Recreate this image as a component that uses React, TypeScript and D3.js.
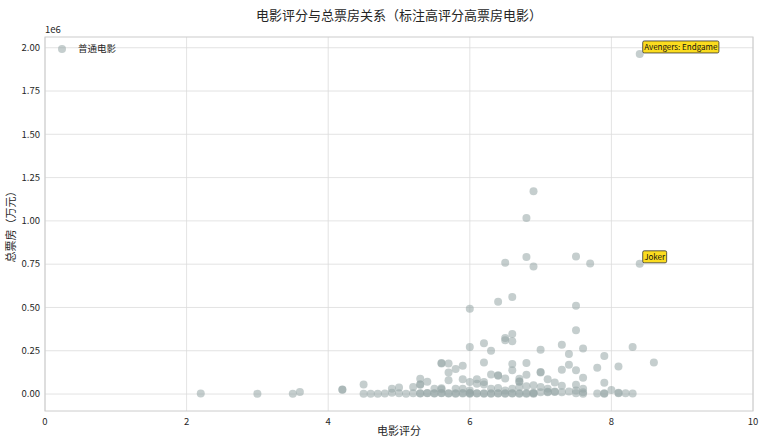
import React, { useEffect, useRef } from 'react';
import * as d3 from 'd3';

// 电影评分 / 总票房（万元）
const ratings = [
  2.2, 3.0, 3.5, 3.6, 4.2, 4.2, 4.5, 4.5, 4.6, 4.7, 4.8, 4.9, 4.9, 5.0, 5.0, 5.1, 5.2, 5.2,
  5.3, 5.3, 5.3, 5.3, 5.3, 5.4, 5.4, 5.4, 5.5, 5.5, 5.5, 5.6, 5.6, 5.6, 5.6, 5.6, 5.6,
  5.7, 5.7, 5.7, 5.7, 5.7, 5.8, 5.8, 5.8, 5.8, 5.9, 5.9, 5.9, 5.9, 5.9,
  6.0, 6.0, 6.0, 6.0, 6.0, 6.0, 6.0, 6.1, 6.1, 6.1, 6.1, 6.2, 6.2, 6.2, 6.2, 6.2, 6.2,
  6.3, 6.3, 6.3, 6.3, 6.3, 6.4, 6.4, 6.4, 6.4, 6.4, 6.4, 6.5, 6.5, 6.5, 6.5, 6.5, 6.5, 6.5,
  6.6, 6.6, 6.6, 6.6, 6.6, 6.6, 6.6, 6.6, 6.7, 6.7, 6.7, 6.7, 6.7, 6.7,
  6.8, 6.8, 6.8, 6.8, 6.8, 6.8, 6.8, 6.9, 6.9, 6.9, 6.9, 6.9, 6.9,
  7.0, 7.0, 7.0, 7.0, 7.0, 7.1, 7.1, 7.1, 7.1, 7.2, 7.2, 7.2, 7.3, 7.3, 7.3, 7.3,
  7.4, 7.4, 7.4, 7.5, 7.5, 7.5, 7.5, 7.5, 7.5, 7.5, 7.6, 7.6, 7.6, 7.6, 7.6,
  7.7, 7.8, 7.8, 7.9, 7.9, 7.9, 7.9, 8.0, 8.1, 8.1, 8.1, 8.2, 8.3, 8.3, 8.4, 8.4, 8.6,
];

const boxOffice = [
  3000, 2000, 2000, 12000, 25000, 26000, 55000, 2000, 1000, 2000, 3000, 8000, 30000, 38000, 4000, 2000, 4000, 40000,
  3000, 5000, 54000, 56000, 88000, 71000, 4000, 6000, 5000, 3000, 30000, 177000, 179000, 4000, 6000, 28000, 33000,
  177000, 125000, 80000, 5000, 3000, 144000, 30000, 4000, 2000, 163000, 86000, 30000, 6000, 3000,
  492000, 271000, 70000, 20000, 4000, 2000, 8000, 86000, 60000, 5000, 3000, 294000, 182000, 70000, 55000, 4000, 2000,
  250000, 113000, 30000, 4000, 2000, 533000, 106000, 108000, 35000, 3000, 5000, 758000, 323000, 310000, 90000, 20000, 4000, 2000,
  561000, 346000, 305000, 173000, 138000, 30000, 3000, 5000, 88000, 71000, 73000, 40000, 4000, 2000,
  1016000, 792000, 179000, 112000, 45000, 4000, 2000, 1171000, 736000, 50000, 4000, 2000, 7000,
  256000, 125000, 127000, 40000, 10000, 86000, 30000, 10000, 13000, 67000, 15000, 12000, 284000, 140000, 48000, 10000,
  231000, 169000, 15000, 794000, 510000, 369000, 138000, 54000, 20000, 5000, 263000, 94000, 30000, 10000, 2000,
  754000, 152000, 3000, 219000, 65000, 4000, 2000, 23000, 159000, 8000, 4000, 4000, 271000, 3000, 1964000, 752000, 182000,
];

// 高评分高票房电影
const highlightTitles = ['Avengers: Endgame', 'Joker'];
const highlightRatings = [8.4, 8.4];
const highlightBoxOffice = [1964000, 752000];

const xTicks = [0, 2, 4, 6, 8, 10];
const yTicks = [0, 250000, 500000, 750000, 1000000, 1250000, 1500000, 1750000, 2000000];

const App: React.FC = () => {
  const svgRef = useRef<SVGSVGElement>(null);

  useEffect(() => {
    if (!svgRef.current) return;
    document.body.style.margin = '0';

    const width = 767;
    const height = 448;
    const margin = { top: 37, right: 14, bottom: 37, left: 45 };
    const innerW = width - margin.left - margin.right;
    const innerH = height - margin.top - margin.bottom;
    const font = '"Noto Sans CJK SC", "Noto Sans", sans-serif';
    const textColor = '#262626';

    d3.select(svgRef.current).selectAll('*').remove();

    const root = d3.select(svgRef.current).attr('width', width).attr('height', height);

    const svg = root.append('g').attr('transform', `translate(${margin.left}, ${margin.top})`);

    const xScale = d3.scaleLinear().domain([0, 10]).range([0, innerW]);
    const yScale = d3.scaleLinear().domain([-98000, 2062000]).range([innerH, 0]);

    // grid
    svg
      .append('g')
      .selectAll('line')
      .data(xTicks)
      .join('line')
      .attr('x1', (d) => xScale(d))
      .attr('x2', (d) => xScale(d))
      .attr('y1', 0)
      .attr('y2', innerH)
      .attr('stroke', '#dcdcdc')
      .attr('stroke-width', 0.8);

    svg
      .append('g')
      .selectAll('line')
      .data(yTicks)
      .join('line')
      .attr('x1', 0)
      .attr('x2', innerW)
      .attr('y1', (d) => yScale(d))
      .attr('y2', (d) => yScale(d))
      .attr('stroke', '#dcdcdc')
      .attr('stroke-width', 0.8);

    svg
      .append('rect')
      .attr('width', innerW)
      .attr('height', innerH)
      .attr('fill', 'none')
      .attr('stroke', '#cccccc')
      .attr('stroke-width', 1);

    // tick labels
    svg
      .append('g')
      .selectAll('text')
      .data(xTicks)
      .join('text')
      .attr('x', (d) => xScale(d))
      .attr('y', innerH + 14)
      .attr('text-anchor', 'middle')
      .attr('font-family', font)
      .attr('font-size', 9.5)
      .attr('fill', textColor)
      .text((d) => d3.format('d')(d));

    svg
      .append('g')
      .selectAll('text')
      .data(yTicks)
      .join('text')
      .attr('x', -5)
      .attr('y', (d) => yScale(d))
      .attr('dy', '0.35em')
      .attr('text-anchor', 'end')
      .attr('font-family', font)
      .attr('font-size', 9.5)
      .attr('fill', textColor)
      .text((d) => d3.format('.2f')(d / 1e6));

    svg
      .append('text')
      .attr('x', 0)
      .attr('y', -4)
      .attr('font-family', font)
      .attr('font-size', 9.5)
      .attr('fill', textColor)
      .text('1e6');

    // points
    const points = ratings.map((r, i) => ({ r, b: boxOffice[i] }));
    svg
      .append('g')
      .selectAll('circle')
      .data(points)
      .join('circle')
      .attr('cx', (d) => xScale(d.r))
      .attr('cy', (d) => yScale(d.b))
      .attr('r', 4)
      .attr('fill', '#95a5a6')
      .attr('fill-opacity', 0.55);

    // annotations
    highlightTitles.forEach((title, i) => {
      const px = xScale(highlightRatings[i]);
      const py = yScale(highlightBoxOffice[i]);
      const g = svg.append('g');
      const box = g.append('rect');
      const t = g
        .append('text')
        .attr('x', px + 4.5)
        .attr('y', py - 4)
        .attr('font-family', font)
        .attr('font-size', 8)
        .attr('fill', '#111')
        .text(title);
      const w = (t.node() as SVGTextElement).getComputedTextLength();
      box
        .attr('x', px + 3)
        .attr('y', py - 13)
        .attr('width', w + 3)
        .attr('height', 12)
        .attr('rx', 1.5)
        .attr('fill', '#fbdc1f')
        .attr('stroke', '#333')
        .attr('stroke-width', 0.8);
    });

    // legend
    svg
      .append('circle')
      .attr('cx', 17)
      .attr('cy', 12)
      .attr('r', 4)
      .attr('fill', '#95a5a6')
      .attr('fill-opacity', 0.55);
    svg
      .append('text')
      .attr('x', 33)
      .attr('y', 12)
      .attr('dy', '0.35em')
      .attr('font-family', font)
      .attr('font-size', 9.5)
      .attr('fill', textColor)
      .text('普通电影');

    // titles
    root
      .append('text')
      .attr('x', margin.left + innerW / 2)
      .attr('y', 20)
      .attr('text-anchor', 'middle')
      .attr('font-family', font)
      .attr('font-size', 13)
      .attr('fill', textColor)
      .text('电影评分与总票房关系（标注高评分高票房电影）');

    root
      .append('text')
      .attr('x', margin.left + innerW / 2)
      .attr('y', 435)
      .attr('text-anchor', 'middle')
      .attr('font-family', font)
      .attr('font-size', 11)
      .attr('fill', textColor)
      .text('电影评分');

    root
      .append('text')
      .attr('transform', `translate(15, ${margin.top + innerH / 2}) rotate(-90)`)
      .attr('text-anchor', 'middle')
      .attr('font-family', font)
      .attr('font-size', 11)
      .attr('fill', textColor)
      .text('总票房（万元）');
  }, []);

  return <svg ref={svgRef} style={{ display: 'block' }}></svg>;
};

export default App;
